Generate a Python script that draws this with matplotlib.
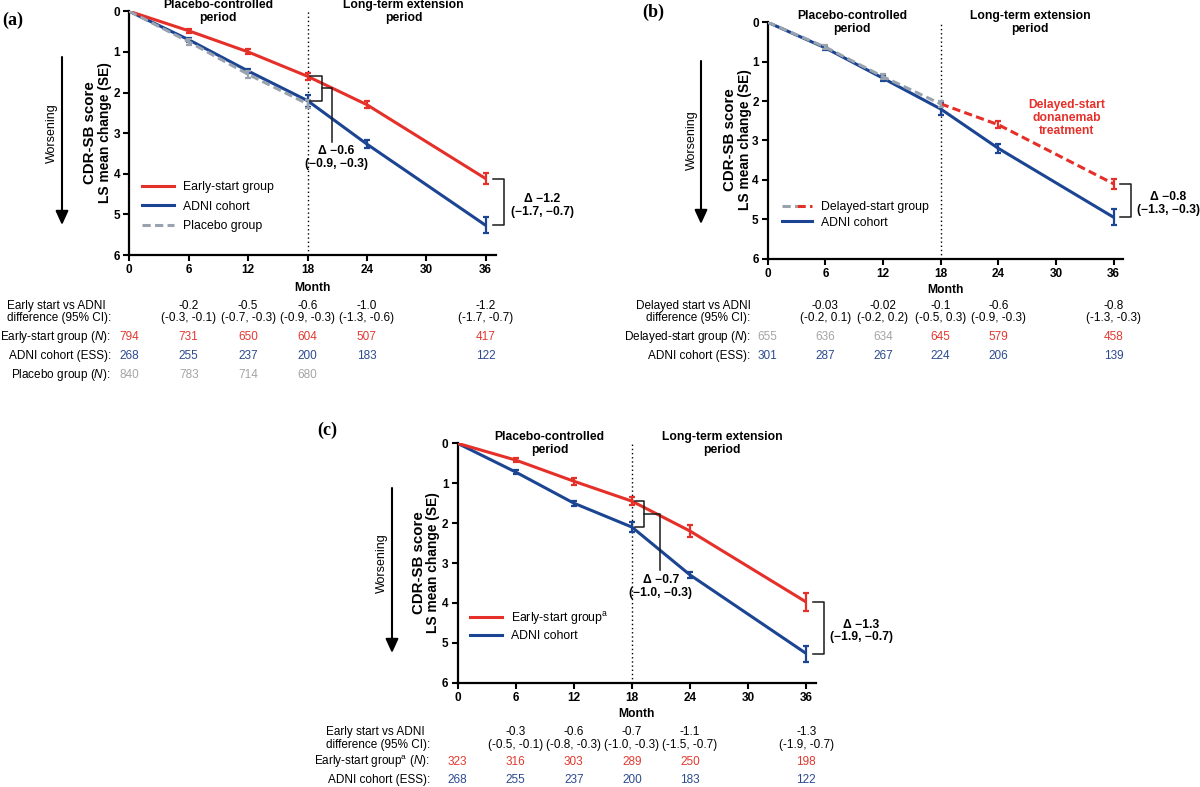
import matplotlib
matplotlib.use('Agg')
import matplotlib.pyplot as plt
from matplotlib.lines import Line2D
from matplotlib.legend_handler import HandlerTuple
from matplotlib.patches import FancyArrowPatch
from matplotlib.transforms import blended_transform_factory

plt.rcParams['font.family'] = ['Liberation Sans', 'DejaVu Sans']
plt.rcParams['mathtext.fontset'] = 'custom'
plt.rcParams['mathtext.rm'] = 'Liberation Sans'
plt.rcParams['mathtext.it'] = 'Liberation Sans:italic'
plt.rcParams['mathtext.bf'] = 'Liberation Sans:bold'

# ---------------- data ----------------
months = [0, 6, 12, 18, 24, 36]
month_ticks = [0, 6, 12, 18, 24, 30, 36]
se_months = [6, 12, 18, 24, 36]

# panel (a)
a_early = [0, 0.48, 1.00, 1.60, 2.30, 4.12]
a_early_se = [0.05, 0.06, 0.08, 0.09, 0.14]
a_adni = [0, 0.70, 1.47, 2.20, 3.27, 5.27]
a_adni_se = [0.05, 0.06, 0.15, 0.10, 0.20]
a_placebo = [0, 0.75, 1.55, 2.28]
a_placebo_se = [0.07, 0.08, 0.09]
a_diff = ['-0.2', '-0.5', '-0.6', '-1.0', '-1.2']
a_diff_ci = ['(-0.3, -0.1)', '(-0.7, -0.3)', '(-0.9, -0.3)', '(-1.3, -0.6)', '(-1.7, -0.7)']
a_n_early = [794, 731, 650, 604, 507, 417]
a_n_adni = [268, 255, 237, 200, 183, 122]
a_n_placebo = [840, 783, 714, 680]
a_delta18 = 'Δ −0.6\n(−0.9, −0.3)'
a_delta36 = 'Δ −1.2\n(−1.7, −0.7)'

# panel (b)
b_delayed = [0, 0.63, 1.38, 2.07, 2.60, 4.10]
b_delayed_se = [0.05, 0.07, 0.08, 0.09, 0.12]
b_adni = [0, 0.65, 1.42, 2.20, 3.20, 4.95]
b_adni_se = [0.05, 0.06, 0.15, 0.12, 0.20]
b_diff = ['-0.03', '-0.02', '-0.1', '-0.6', '-0.8']
b_diff_ci = ['(-0.2, 0.1)', '(-0.2, 0.2)', '(-0.5, 0.3)', '(-0.9, -0.3)', '(-1.3, -0.3)']
b_n_delayed = [655, 636, 634, 645, 579, 458]
b_n_adni = [301, 287, 267, 224, 206, 139]
b_delta36 = 'Δ −0.8\n(−1.3, −0.3)'

# panel (c)
c_early = [0, 0.42, 0.95, 1.45, 2.20, 3.98]
c_early_se = [0.06, 0.09, 0.10, 0.15, 0.22]
c_adni = [0, 0.72, 1.50, 2.10, 3.30, 5.27]
c_adni_se = [0.04, 0.06, 0.12, 0.08, 0.20]
c_diff = ['-0.3', '-0.6', '-0.7', '-1.1', '-1.3']
c_diff_ci = ['(-0.5, -0.1)', '(-0.8, -0.3)', '(-1.0, -0.3)', '(-1.5, -0.7)', '(-1.9, -0.7)']
c_n_early = [323, 316, 303, 289, 250, 198]
c_n_adni = [268, 255, 237, 200, 183, 122]
c_delta18 = 'Δ −0.7\n(−1.0, −0.3)'
c_delta36 = 'Δ −1.3\n(−1.9, −0.7)'

# ---------------- style ----------------
RED = '#E5302A'
BLUE = '#1B4592'
GREY = '#99A2AF'
RED_T = '#E2392F'
BLUE_T = '#2B4A8E'
GREY_T = '#A5A5A5'
DASH = (0, (2.7, 1.4))
LW = 2.2
FS = 8.7
TFS = 8.5

W, H = 1200, 787
fig = plt.figure(figsize=(12, 7.87), dpi=100)


def fx(px):
    return px / W


def fy(py):
    return 1 - py / H


def make_axes(left_px, top_px, ppm, height_px):
    ax = fig.add_axes([fx(left_px), fy(top_px + height_px), 37 * ppm / W, height_px / H])
    ax.set_xlim(0, 37)
    ax.set_ylim(6, 0)
    for s in ['top', 'right']:
        ax.spines[s].set_visible(False)
    for s in ['left', 'bottom']:
        ax.spines[s].set_linewidth(1.6)
    ax.set_xticks(month_ticks)
    ax.set_yticks(range(7))
    ax.tick_params(direction='out', length=4.3, width=1.5, labelsize=8.5, pad=2.2)
    for lab in ax.get_xticklabels() + ax.get_yticklabels():
        lab.set_fontweight('bold')
    ax.axvline(18, color='black', lw=1.0, ls=(0, (1, 2)), zorder=1)
    return ax


def series(ax, y, se, color, ls='-', z=3, xs=months, sx=se_months):
    ax.plot(xs, y, color=color, lw=LW, ls=ls, zorder=z, solid_capstyle='butt')
    ax.errorbar(sx, y[1:], yerr=se, fmt='none', ecolor=color, elinewidth=1.6,
                capsize=2.4, capthick=1.6, zorder=z)


def bracket18(ax, i, ytop, ybot, xb, xt, ydown, text, txc, tyc):
    m = months[i]
    ax.plot([m + 0.3, xb, xb, m + 0.3], [ytop, ytop, ybot, ybot], color='#1a1a1a',
            lw=1.1, clip_on=False, zorder=6)
    mid = (ytop + ybot) / 2
    ax.plot([xb, xt, xt], [mid, mid, ydown], color='#1a1a1a', lw=1.1, clip_on=False, zorder=6)
    ax.text(txc, tyc, text, ha='center', va='center', fontsize=FS, fontweight='bold',
            linespacing=1.1, clip_on=False)


def bracket36(ax, ytop, ybot, text):
    ax.plot([36.7, 37.8, 37.8, 36.7], [ytop, ytop, ybot, ybot], color='#1a1a1a',
            lw=1.1, clip_on=False, zorder=6)
    ax.text(41.7, (ytop + ybot) / 2 + 0.08, text, ha='center', va='center', fontsize=FS,
            fontweight='bold', linespacing=1.1, clip_on=False)


def headers(ax, x1, x2):
    ax.text(x1, 0, 'Placebo-controlled\nperiod', ha='center', va='center', fontsize=FS,
            fontweight='bold', linespacing=1.1, clip_on=False)
    ax.text(x2, 0, 'Long-term extension\nperiod', ha='center', va='center', fontsize=FS,
            fontweight='bold', linespacing=1.1, clip_on=False)


def side_labels(ax_center_y, arrow_x, arrow_top, arrow_bot, worse_x, l1_x, l2_x):
    fig.text(fx(worse_x), fy(ax_center_y), 'Worsening', rotation=90, ha='center',
             va='center', fontsize=9)
    arr = FancyArrowPatch((fx(arrow_x), fy(arrow_top)), (fx(arrow_x), fy(arrow_bot)),
                          transform=fig.transFigure,
                          arrowstyle='-|>,head_length=0.7,head_width=0.32',
                          mutation_scale=12, lw=1.5, color='black', shrinkA=0, shrinkB=0)
    fig.add_artist(arr)
    fig.text(fx(l1_x), fy(ax_center_y), 'CDR-SB score', rotation=90, ha='center',
             va='center', fontsize=10.8, fontweight='bold')
    fig.text(fx(l2_x), fy(ax_center_y), 'LS mean change (SE)', rotation=90, ha='center',
             va='center', fontsize=9.9, fontweight='bold')


def table(ax, label_right, rows, diff_y, diff_label, diff_vals, diff_cis, align='left'):
    tr = blended_transform_factory(ax.transData, fig.transFigure)
    fig.text(fx(label_right), fy(diff_y), diff_label, ha='right', va='center',
             multialignment=align, fontsize=TFS, linespacing=1.1)
    for m, v, c in zip(months[1:], diff_vals, diff_cis):
        ax.text(m, fy(diff_y), v + '\n' + c, transform=tr, ha='center', va='center',
                fontsize=TFS, linespacing=1.1, clip_on=False)
    for label, y, vals, colors in rows:
        fig.text(fx(label_right), fy(y), label, ha='right', va='center', fontsize=TFS)
        for m, v, col in zip(months, vals, colors):
            ax.text(m, fy(y), str(v), transform=tr, ha='center', va='center',
                    fontsize=TFS, color=col, clip_on=False)


def month_label(ax, y_px):
    tr = blended_transform_factory(ax.transAxes, fig.transFigure)
    ax.text(0.5, fy(y_px), 'Month', transform=tr, ha='center', va='center',
            fontsize=FS, fontweight='bold')


leg_kw = dict(frameon=False, borderpad=0, borderaxespad=0, fontsize=8.8,
              handletextpad=0.72, bbox_transform=fig.transFigure, loc='center left')

# ================= panel (a) =================
axa = make_axes(129.3, 11.3, 9.9, 243.7)
series(axa, a_adni, a_adni_se, BLUE, z=3)
series(axa, a_early, a_early_se, RED, z=4)
series(axa, a_placebo, a_placebo_se, GREY, ls=DASH, z=5, xs=months[:4], sx=se_months[:3])
headers(axa, 9.0, 27.7)
bracket18(axa, 3, a_early[3], a_adni[3], 19.5, 20.5, 3.21, a_delta18, 20.9, 3.6)
bracket36(axa, a_early[5], a_adni[5], a_delta36)
month_label(axa, 288)
hl = [Line2D([], [], color=RED, lw=LW), Line2D([], [], color=BLUE, lw=LW),
      Line2D([], [], color=GREY, lw=LW, ls=DASH)]
axa.legend(hl, ['Early-start group', 'ADNI cohort', 'Placebo group'],
           bbox_to_anchor=(fx(142), fy(206.5)), handlelength=2.6, labelspacing=0.62, **leg_kw)
side_labels(133, 62, 57, 225, 52, 90, 105.5)
table(axa, 111, [
    ('Early-start group ($\\it{N}$):', 337, a_n_early, [RED_T] * 6),
    ('ADNI cohort (ESS):', 356, a_n_adni, [BLUE_T] * 6),
    ('Placebo group ($\\it{N}$):', 375, a_n_placebo, [GREY_T] * 4),
], 312, 'Early start vs ADNI\ndifference (95% CI):', a_diff, a_diff_ci, align='left')
fig.text(fx(2), fy(20), '(a)', fontfamily='Liberation Serif', fontweight='bold',
         fontsize=13, ha='left', va='center')

# ================= panel (b) =================
axb = make_axes(767.7, 22.3, 9.611, 236.4)
series(axb, b_adni, b_adni_se, BLUE, z=3)
axb.plot(months[:4], b_delayed[:4], color=GREY, lw=LW, ls=DASH, zorder=5)
axb.plot(months[3:], b_delayed[3:], color=RED, lw=LW, ls=DASH, zorder=5)
b_err_colors = [GREY if m <= 18 else RED for m in se_months]
for m, v, e, col in zip(se_months, b_delayed[1:], b_delayed_se, b_err_colors):
    axb.errorbar([m], [v], yerr=[e], fmt='none', ecolor=col, elinewidth=1.6,
                 capsize=2.4, capthick=1.6, zorder=5)
headers(axb, 8.8, 27.3)
axb.text(31.1, 2.42, 'Delayed-start\ndonanemab\ntreatment', ha='center', va='center',
         fontsize=FS, fontweight='bold', color=RED, linespacing=1.1)
bracket36(axb, b_delayed[5], b_adni[5], b_delta36)
month_label(axb, 290)
hb = [(Line2D([], [], color=GREY, lw=LW, ls=DASH), Line2D([], [], color=RED, lw=LW, ls=DASH)),
      Line2D([], [], color=BLUE, lw=LW)]
axb.legend(hb, ['Delayed-start group', 'ADNI cohort'],
           handler_map={tuple: HandlerTuple(ndivide=None, pad=0)},
           bbox_to_anchor=(fx(782), fy(215)), handlelength=2.45, labelspacing=0.25, **leg_kw)
side_labels(140, 701, 61, 224, 692, 730, 745)
table(axb, 750.7, [
    ('Delayed-start group ($\\it{N}$):', 337, b_n_delayed,
     [GREY_T if m < 18 else RED_T for m in months]),
    ('ADNI cohort (ESS):', 356, b_n_adni, [BLUE_T] * 6),
], 312, 'Delayed start vs ADNI\ndifference (95% CI):', b_diff, b_diff_ci, align='right')
fig.text(fx(642), fy(12), '(b)', fontfamily='Liberation Serif', fontweight='bold',
         fontsize=13, ha='left', va='center')

# ================= panel (c) =================
axc = make_axes(457.5, 443.3, 9.69, 239.4)
series(axc, c_adni, c_adni_se, BLUE, z=3)
series(axc, c_early, c_early_se, RED, z=4)
headers(axc, 9.5, 27.3)
bracket18(axc, 3, c_early[3], c_adni[3], 19.2, 20.9, 3.18, c_delta18, 21.0, 3.6)
bracket36(axc, c_early[5], c_adni[5], c_delta36)
month_label(axc, 714)
hc = [Line2D([], [], color=RED, lw=LW), Line2D([], [], color=BLUE, lw=LW)]
axc.legend(hc, ['Early-start group$^{\\rm a}$', 'ADNI cohort'],
           bbox_to_anchor=(fx(470), fy(626)), handlelength=2.6, labelspacing=0.3, **leg_kw)
side_labels(563, 392, 488, 653, 382, 419, 433)
table(axc, 430, [
    ('Early-start group$^{\\rm a}$ ($\\it{N}$):', 762, c_n_early, [RED_T] * 6),
    ('ADNI cohort (ESS):', 780, c_n_adni, [BLUE_T] * 6),
], 738.4, 'Early start vs ADNI\ndifference (95% CI):', c_diff, c_diff_ci, align='left')
fig.text(fx(317), fy(430), '(c)', fontfamily='Liberation Serif', fontweight='bold',
         fontsize=13, ha='left', va='center')

fig.savefig('out.png', dpi=100)
